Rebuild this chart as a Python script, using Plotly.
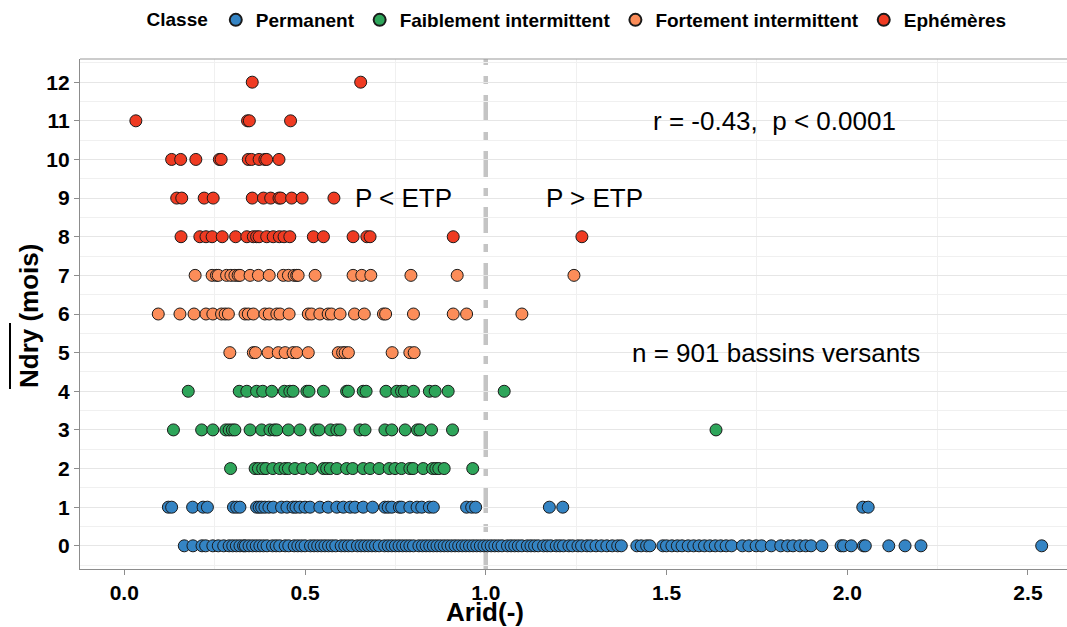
import plotly.graph_objects as go

# ---------------- data (Arid values per Ndry row, by class) ----------------
perm_row0 = [0.166, 0.19, 0.215, 0.225, 0.245, 0.26, 0.275, 0.29, 0.30, 0.31, 0.32, 0.33, 0.335, 0.345,
             0.355, 0.365, 0.375, 0.385, 0.395, 0.41, 0.42, 0.43, 0.445, 0.455, 0.47, 0.48, 0.49, 0.50,
             0.515, 0.525, 0.535, 0.545, 0.555, 0.565, 0.575, 0.585, 0.60, 0.61, 0.62, 0.63, 0.645, 0.655,
             0.665, 0.675, 0.685, 0.695, 0.705, 0.72, 0.73, 0.74, 0.75, 0.76, 0.77, 0.78, 0.79, 0.80,
             0.815, 0.825, 0.835, 0.845, 0.855, 0.865, 0.875, 0.885, 0.895, 0.905, 0.915, 0.925, 0.935,
             0.945, 0.955, 0.965, 0.975, 0.985, 0.995, 1.005, 1.015, 1.025, 1.035, 1.045, 1.06, 1.07,
             1.08, 1.09, 1.10, 1.115, 1.125, 1.135, 1.145, 1.16, 1.17, 1.18, 1.195, 1.205, 1.215, 1.23,
             1.24, 1.255, 1.265, 1.28, 1.29, 1.305, 1.32, 1.335, 1.35, 1.365, 1.375, 1.418, 1.43, 1.445,
             1.454, 1.49, 1.50, 1.515, 1.53, 1.543, 1.56, 1.575, 1.59, 1.605, 1.62, 1.635, 1.65, 1.665,
             1.68, 1.71, 1.728, 1.748, 1.763, 1.79, 1.816, 1.835, 1.85, 1.869, 1.885, 1.90, 1.93, 1.983,
             1.99, 2.011, 2.045, 2.05, 2.115, 2.16, 2.204, 2.538]
perm_row1 = [0.122, 0.131, 0.189, 0.218, 0.230, 0.302, 0.311, 0.320, 0.366, 0.373, 0.380, 0.389, 0.400,
             0.412, 0.435, 0.450, 0.467, 0.475, 0.486, 0.500, 0.514, 0.541, 0.564, 0.588, 0.606, 0.625,
             0.638, 0.661, 0.687, 0.721, 0.730, 0.740, 0.761, 0.767, 0.790, 0.810, 0.823, 0.844, 0.855,
             0.947, 0.961, 0.972, 1.176, 1.213, 2.043, 2.058]
faib_row2 = [0.294, 0.362, 0.371, 0.383, 0.392, 0.411, 0.430, 0.445, 0.454, 0.472, 0.494, 0.518, 0.551,
             0.560, 0.570, 0.588, 0.615, 0.632, 0.661, 0.680, 0.705, 0.733, 0.749, 0.767, 0.790, 0.799,
             0.827, 0.853, 0.862, 0.870, 0.885, 0.964]
faib_row3 = [0.136, 0.214, 0.245, 0.281, 0.290, 0.299, 0.306, 0.348, 0.380, 0.403, 0.415, 0.422, 0.454,
             0.486, 0.530, 0.539, 0.571, 0.588, 0.597, 0.652, 0.666, 0.721, 0.740, 0.777, 0.811, 0.818,
             0.850, 0.908, 1.637]
faib_row4 = [0.177, 0.318, 0.339, 0.366, 0.383, 0.408, 0.443, 0.458, 0.467, 0.505, 0.511, 0.551, 0.615,
             0.620, 0.661, 0.669, 0.724, 0.754, 0.767, 0.775, 0.800, 0.844, 0.860, 0.896, 1.051]
fort_row5 = [0.292, 0.357, 0.363, 0.398, 0.426, 0.445, 0.467, 0.477, 0.509, 0.592, 0.604, 0.611, 0.620,
             0.741, 0.790, 0.802]
fort_row6 = [0.094, 0.154, 0.193, 0.226, 0.245, 0.269, 0.279, 0.288, 0.334, 0.343, 0.357, 0.389, 0.401,
             0.422, 0.431, 0.456, 0.509, 0.518, 0.541, 0.564, 0.573, 0.597, 0.637, 0.664, 0.717, 0.723,
             0.800, 0.910, 0.947, 1.100]
fort_row7 = [0.196, 0.243, 0.255, 0.260, 0.283, 0.295, 0.306, 0.315, 0.320, 0.348, 0.371, 0.401, 0.440,
             0.454, 0.470, 0.477, 0.481, 0.528, 0.633, 0.657, 0.682, 0.793, 0.921, 1.244]
eph_row8 = [0.157, 0.209, 0.226, 0.243, 0.271, 0.308, 0.339, 0.357, 0.366, 0.373, 0.394, 0.412, 0.429,
            0.442, 0.458, 0.523, 0.551, 0.633, 0.671, 0.680, 0.910, 1.266]
eph_row9 = [0.145, 0.159, 0.221, 0.246, 0.354, 0.385, 0.405, 0.428, 0.433, 0.463, 0.492, 0.580]
eph_row10 = [0.131, 0.156, 0.198, 0.263, 0.268, 0.343, 0.352, 0.373, 0.389, 0.394, 0.428]
eph_row11 = [0.032, 0.341, 0.346, 0.460]
eph_row12 = [0.354, 0.654]

classes = ["Permanent", "Faiblement intermittent", "Fortement intermittent", "Ephémères"]
class_colors = ["#3484c4", "#2ea55a", "#fc8d59", "#ef3b22"]
class_rows = [
    {0: perm_row0, 1: perm_row1},
    {2: faib_row2, 3: faib_row3, 4: faib_row4},
    {5: fort_row5, 6: fort_row6, 7: fort_row7},
    {8: eph_row8, 9: eph_row9, 10: eph_row10, 11: eph_row11, 12: eph_row12},
]

y_ticks = list(range(0, 13))
x_ticks = [0.0, 0.5, 1.0, 1.5, 2.0, 2.5]
x_tick_labels = ["0.0", "0.5", "1.0", "1.5", "2.0", "2.5"]
x_minor_ticks = [0.25, 0.75, 1.25, 1.75, 2.25]
threshold = 1.0
x_range = [-0.1225, 2.608]
y_range = [-0.6, 12.6]

FONT = "Liberation Sans, Arial, Helvetica, sans-serif"

fig = go.Figure()
for name, color, rows in zip(classes, class_colors, class_rows):
    xs, ys = [], []
    for ndry, arids in rows.items():
        xs += arids
        ys += [ndry] * len(arids)
    fig.add_trace(go.Scatter(
        x=xs, y=ys, mode="markers", name=name,
        marker=dict(size=12, color=color, line=dict(color="#1a1a1a", width=1)),
    ))

# vertical threshold line (P = ETP), under the points
fig.add_vline(x=threshold, line=dict(color="#c4c4c4", width=4.5, dash="26px,11px,8px,11px"), layer="below")

ann_font = dict(family=FONT, size=26, color="black")
fig.add_annotation(x=1.80, y=11, text="r = -0.43,\u00a0 p < 0.0001", showarrow=False, font=ann_font)
fig.add_annotation(x=0.772, y=9, text="P < ETP", showarrow=False, font=ann_font)
fig.add_annotation(x=1.302, y=9, text="P > ETP", showarrow=False, font=ann_font)
fig.add_annotation(x=1.803, y=5, text="n = 901 bassins versants", showarrow=False, font=ann_font)

# y axis title with overline on "Ndry"
W, H = 1067, 627
ML, MR, MT, MB = 80, 0, 59, 58
pw = W - ML - MR
ph = H - MT - MB
def px_x(p):
    return (p - ML) / pw
def px_y(p):
    return (H - MB - p) / ph

fig.add_annotation(xref="paper", yref="paper", x=px_x(29), y=px_y(316), text="<b>Ndry (mois)</b>",
                   textangle=-90, showarrow=False, xanchor="center", yanchor="middle",
                   font=dict(family=FONT, size=26, color="black"))
fig.add_shape(type="line", xref="paper", yref="paper", x0=px_x(10), x1=px_x(10), y0=px_y(323), y1=px_y(389),
              line=dict(color="black", width=2))
# top panel border
fig.add_shape(type="line", xref="paper", yref="paper", x0=0, x1=1, y0=1, y1=1,
              line=dict(color="#9a9a9a", width=1.2))
# x axis title
fig.add_annotation(xref="paper", yref="paper", x=px_x(485), y=px_y(612), text="<b>Arid(-)</b>",
                   showarrow=False, xanchor="center", yanchor="middle",
                   font=dict(family=FONT, size=26, color="black"))

fig.update_layout(
    width=W, height=H,
    margin=dict(l=ML, r=MR, t=MT, b=MB, autoexpand=False),
    paper_bgcolor="white", plot_bgcolor="white",
    font=dict(family=FONT, color="black"),
    showlegend=True,
    legend=dict(orientation="h", x=px_x(578), xanchor="center", y=px_y(20), yanchor="middle",
                title=dict(text="<b>Classe</b>", font=dict(family=FONT, size=19, color="black")),
                font=dict(family=FONT, size=19, color="black", weight="bold"),
                itemsizing="constant", bgcolor="rgba(0,0,0,0)", traceorder="normal"),
    xaxis=dict(range=x_range, tickvals=x_ticks, ticktext=x_tick_labels, automargin=False,
               tickfont=dict(family=FONT, size=21, color="black", weight="bold"),
               ticks="outside", ticklen=5, tickcolor="#8c8c8c", tickwidth=1,
               showline=True, linecolor="#8c8c8c", linewidth=1.3,
               showgrid=False,
               minor=dict(tickvals=x_minor_ticks, showgrid=True, gridcolor="#f0f0f0", gridwidth=1, ticks=""),
               zeroline=False),
    # overlay axis only used to draw the major vertical gridlines (skipping the one under the dashed line)
    xaxis2=dict(overlaying="x", anchor="y", range=x_range, tickvals=[v for v in x_ticks if v != threshold],
                showticklabels=False, ticks="", showline=False, showgrid=True,
                gridcolor="#e6e6e6", gridwidth=1, zeroline=False, automargin=False),
    yaxis=dict(range=y_range, tickvals=y_ticks, automargin=False,
               tickfont=dict(family=FONT, size=21, color="black", weight="bold"),
               ticks="outside", ticklen=5, tickcolor="#8c8c8c", tickwidth=1,
               showline=True, linecolor="#8c8c8c", linewidth=1.3,
               showgrid=True, gridcolor="#e6e6e6", gridwidth=1,
               minor=dict(dtick=0.5, tick0=0, showgrid=True, gridcolor="#f0f0f0", gridwidth=1, ticks=""),
               zeroline=False),
)

fig.write_html("out.html", config={"displayModeBar": False},
               post_script="document.body.style.margin='0';document.body.style.overflow='hidden';")
